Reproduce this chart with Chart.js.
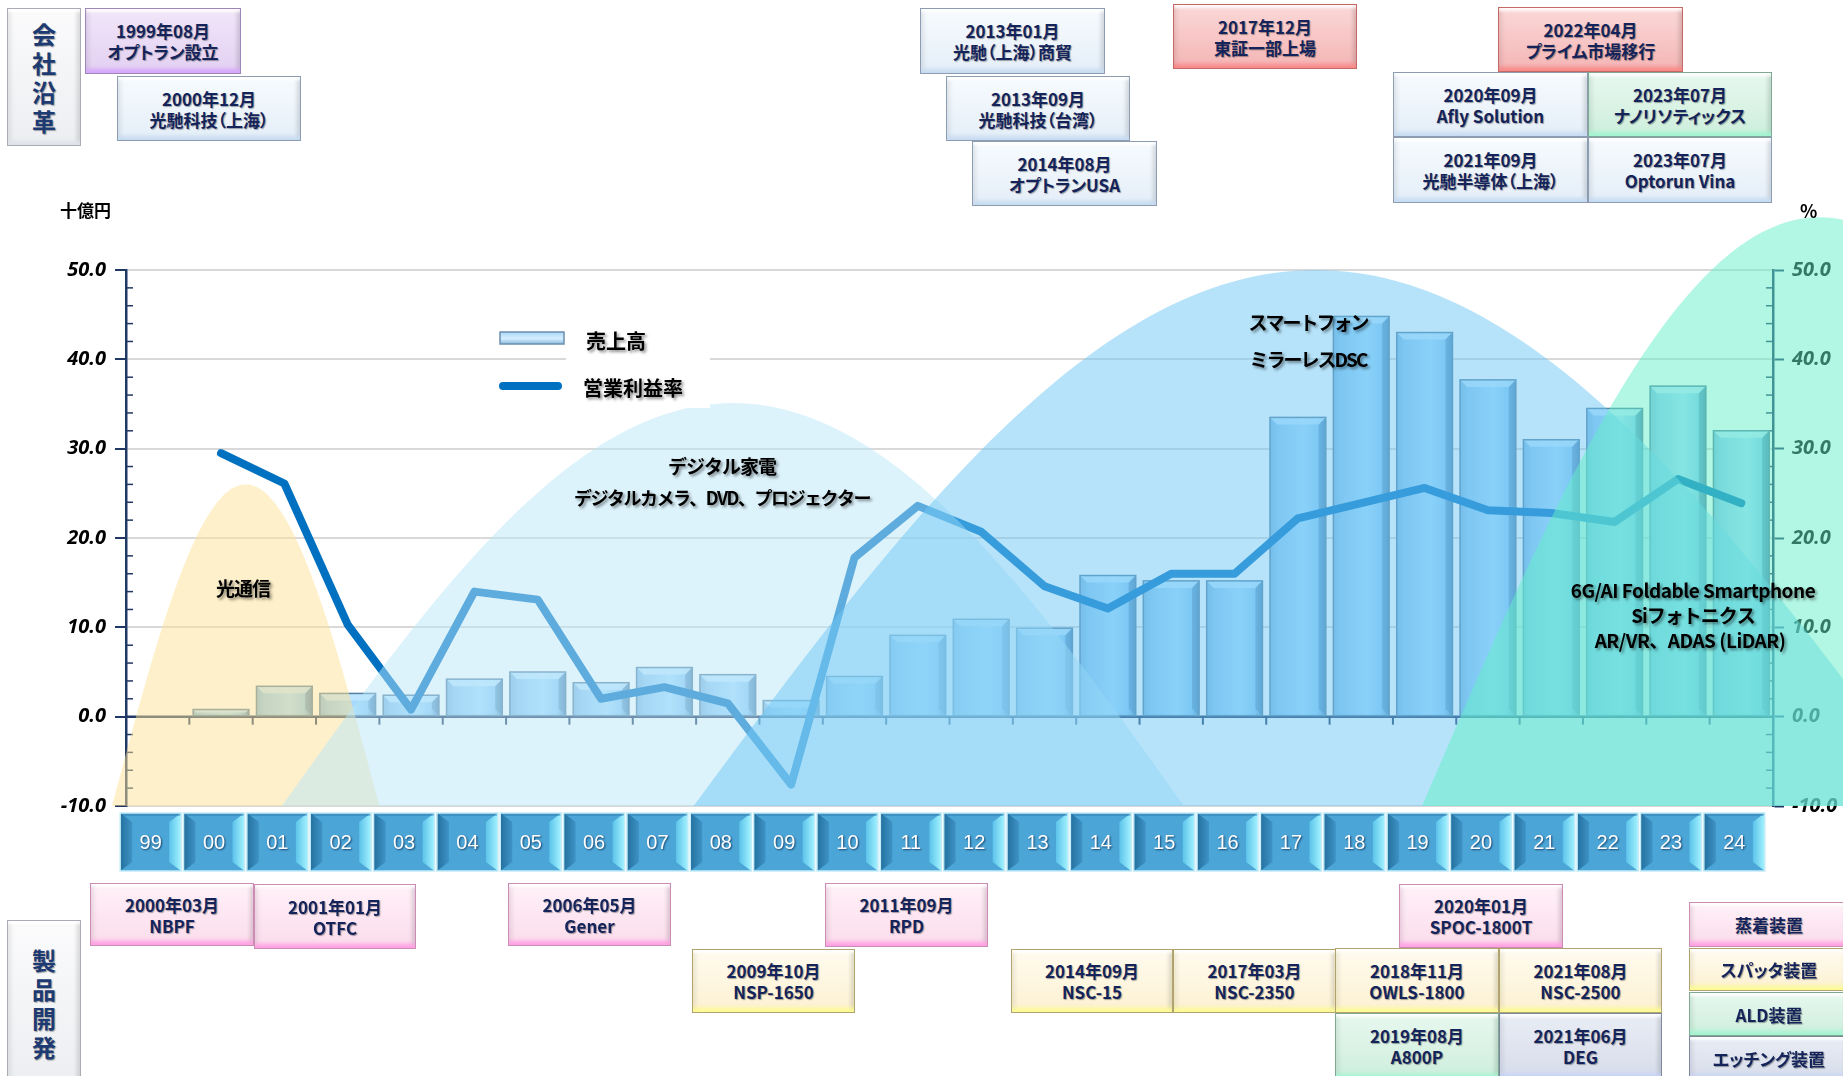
<!DOCTYPE html>
<html>
<head>
<meta charset="utf-8">
<script src="https://cdn.jsdelivr.net/npm/chart.js@4.4.1/dist/chart.umd.min.js"></script>
<style>
html, body { margin: 0; padding: 0; background: #fff; }
#wrap { position: relative; width: 1843px; height: 1076px; overflow: hidden; }
#chart { position: absolute; left: 0; top: 0; }
.bx {
  position: absolute; box-sizing: border-box;
  display: flex; flex-direction: column; align-items: center; justify-content: center;
  font-family: "Noto Sans CJK JP", "Noto Sans", sans-serif; font-weight: 700;
  font-size: 17px; line-height: 21px; color: #14245a; white-space: nowrap;
  font-feature-settings: "palt";
  text-shadow: 1px 1px 1px rgba(0,0,0,.35);
  border: 1.5px solid #8f97a6;
  box-shadow: inset 0 -6px 4px -2px var(--edge), inset 0 5px 3px -2px rgba(255,255,255,.9),
              inset 6px 0 4px -3px rgba(0,0,0,.08), inset -6px 0 4px -3px rgba(0,0,0,.14);
}
.blue   { background: linear-gradient(#f7fbfe, #e4eef8); --edge: #c7dcf1; border-color: #8e9cb2; }
.purple { background: linear-gradient(#f1e6f9, #e2d0f2); --edge: #d5a6fb; border-color: #9d86b8; }
.red    { background: linear-gradient(#fbd8d8, #f4b5b5); --edge: #f98888; border-color: #c46a66; }
.green  { background: linear-gradient(#e8f8ef, #cdeedc); --edge: #a3f5d0; border-color: #7fa892; }
.pink   { background: linear-gradient(#fff1f8, #fbdcec); --edge: #ff9fe3; border-color: #c98eb2; }
.yellow { background: linear-gradient(#fffbef, #fcf1d1); --edge: #fdfb92; border-color: #b0a371; }
.gray   { background: linear-gradient(#e9edf5, #d6dcea); --edge: #c4d3fa; border-color: #7d879c; }
.white  { background: linear-gradient(#fbfbfc, #eceef1); --edge: #dfe2e8; border-color: #a9acb3; }
.vert { font-size: 24px; line-height: 29px; color: #1d3a72; }
.unit { position: absolute; font-family: "Noto Sans CJK JP", sans-serif; font-weight: 700; font-size: 17px; color: #000; }
</style>
</head>
<body>
<div id="wrap">
<canvas id="chart" width="1843" height="1076"></canvas>

<div class="bx white vert" style="left:7px;top:8px;width:74px;height:138px;">会<br>社<br>沿<br>革</div>
<div class="bx purple" style="left:85px;top:8px;width:156px;height:66px;"><span>1999年08月</span><span>オプトラン設立</span></div>
<div class="bx blue" style="left:117px;top:76px;width:184px;height:65px;"><span>2000年12月</span><span>光馳科技（上海）</span></div>
<div class="bx blue" style="left:920px;top:8px;width:185px;height:66px;"><span>2013年01月</span><span>光馳（上海）商貿</span></div>
<div class="bx blue" style="left:946px;top:76px;width:184px;height:65px;"><span>2013年09月</span><span>光馳科技（台湾）</span></div>
<div class="bx blue" style="left:972px;top:141px;width:185px;height:65px;"><span>2014年08月</span><span>オプトランUSA</span></div>
<div class="bx red" style="left:1173px;top:4px;width:184px;height:65px;"><span>2017年12月</span><span>東証一部上場</span></div>
<div class="bx red" style="left:1498px;top:7px;width:185px;height:65px;"><span>2022年04月</span><span>プライム市場移行</span></div>
<div class="bx blue" style="left:1393px;top:72px;width:195px;height:65px;"><span>2020年09月</span><span>Afly Solution</span></div>
<div class="bx green" style="left:1588px;top:72px;width:184px;height:65px;"><span>2023年07月</span><span>ナノリソティックス</span></div>
<div class="bx blue" style="left:1393px;top:137px;width:195px;height:66px;"><span>2021年09月</span><span>光馳半導体（上海）</span></div>
<div class="bx blue" style="left:1588px;top:137px;width:184px;height:66px;"><span>2023年07月</span><span>Optorun Vina</span></div>

<div class="bx white vert" style="left:7px;top:920px;width:74px;height:166px;">製<br>品<br>開<br>発</div>
<div class="bx pink" style="left:90px;top:883px;width:164px;height:63px;"><span>2000年03月</span><span>NBPF</span></div>
<div class="bx pink" style="left:254px;top:884px;width:162px;height:65px;"><span>2001年01月</span><span>OTFC</span></div>
<div class="bx pink" style="left:508px;top:883px;width:163px;height:63px;"><span>2006年05月</span><span>Gener</span></div>
<div class="bx yellow" style="left:692px;top:949px;width:163px;height:64px;"><span>2009年10月</span><span>NSP-1650</span></div>
<div class="bx pink" style="left:825px;top:883px;width:163px;height:64px;"><span>2011年09月</span><span>RPD</span></div>
<div class="bx yellow" style="left:1011px;top:949px;width:162px;height:64px;"><span>2014年09月</span><span>NSC-15</span></div>
<div class="bx yellow" style="left:1173px;top:949px;width:163px;height:64px;"><span>2017年03月</span><span>NSC-2350</span></div>
<div class="bx yellow" style="left:1335px;top:948px;width:164px;height:65px;"><span>2018年11月</span><span>OWLS-1800</span></div>
<div class="bx green" style="left:1335px;top:1013px;width:164px;height:66px;"><span>2019年08月</span><span>A800P</span></div>
<div class="bx pink" style="left:1399px;top:884px;width:164px;height:64px;"><span>2020年01月</span><span>SPOC-1800T</span></div>
<div class="bx yellow" style="left:1499px;top:948px;width:163px;height:65px;"><span>2021年08月</span><span>NSC-2500</span></div>
<div class="bx gray" style="left:1499px;top:1013px;width:163px;height:66px;"><span>2021年06月</span><span>DEG</span></div>
<div class="bx pink" style="left:1689px;top:902px;width:160px;height:45px;">蒸着装置</div>
<div class="bx yellow" style="left:1689px;top:948px;width:160px;height:43px;">スパッタ装置</div>
<div class="bx green" style="left:1689px;top:992px;width:160px;height:44px;">ALD装置</div>
<div class="bx gray" style="left:1689px;top:1036px;width:160px;height:44px;">エッチング装置</div>

<div class="unit" style="left:60px;top:197px;">十億円</div>
<div class="unit" style="left:1800px;top:197px;font-size:18px;">%</div>
</div>

<script>
// 年度 (1999-2024)
const years = ['99', '00', '01', '02', '03', '04', '05', '06', '07', '08', '09', '10', '11', '12',
               '13', '14', '15', '16', '17', '18', '19', '20', '21', '22', '23', '24'];
// 売上高 (十億円)
const sales = [null, 0.8, 3.4, 2.6, 2.4, 4.2, 5.0, 3.8, 5.5, 4.7, 1.8, 4.5, 9.1, 10.9,
               9.9, 15.8, 15.2, 15.2, 33.5, 44.8, 43.0, 37.7, 31.0, 34.5, 37.0, 32.0];
// 営業利益率 (%)
const margin = [null, 29.5, 26.1, 10.3, 0.8, 14.0, 13.1, 2.0, 3.3, 1.5, -7.6, 17.8, 23.6, 20.7,
                14.6, 12.1, 16.0, 16.0, 22.2, 23.9, 25.6, 23.1, 22.8, 21.8, 26.6, 23.9];
const yTicks = [-10, 0, 10, 20, 30, 40, 50];

// 市場の波 (category index units, value units)
const phases = [
  { from: -0.72, to: 3.5,  peak: 26.0, fill: 'rgba(253,225,150,0.5)' },
  { from: 1.96,  to: 16.2, peak: 35.1, fill: 'rgba(187,231,249,0.5)' },
  { from: 8.46,  to: 28.1, peak: 50.0, fill: 'rgba(110,200,245,0.5)' },
  { from: 19.96, to: 32.5, peak: 55.9, fill: 'rgba(100,240,200,0.5)' }
];

const NAVY = '#1f3864';
const JP = '"Noto Sans CJK JP", "Noto Sans", sans-serif';

function shadowText(c, text, x, y, size, spacing) {
    c.save();
    c.font = `700 ${size}px ${JP}`;
    if (spacing) c.letterSpacing = spacing;
    c.textAlign = 'center';
    c.textBaseline = 'middle';
    c.shadowColor = 'rgba(0,0,0,0.45)';
    c.shadowOffsetX = 2;
    c.shadowOffsetY = 2;
    c.shadowBlur = 3;
    c.fillStyle = '#000';
    c.fillText(text, x, y);
    c.restore();
}

const decor = {
    id: 'decor',
    beforeDatasetsDraw(chart) {
        const c = chart.ctx, ys = chart.scales.y, xs = chart.scales.x;
        const { left, right } = chart.chartArea;
        c.save();
        c.strokeStyle = NAVY;
        c.lineWidth = 1.5;
        // minor ticks
        for (let v = -10; v <= 50; v += 2) {
            if (v % 10 === 0) continue;
            const y = ys.getPixelForValue(v);
            c.beginPath(); c.moveTo(left, y); c.lineTo(left + 7, y); c.stroke();
            c.beginPath(); c.moveTo(right - 7, y); c.lineTo(right, y); c.stroke();
        }
        // category axis at 0
        const y0 = ys.getPixelForValue(0);
        c.lineWidth = 2.5;
        c.beginPath(); c.moveTo(left, y0); c.lineTo(right, y0); c.stroke();
        c.lineWidth = 2;
        for (let i = 1; i < years.length; i++) {
            const x = xs.getPixelForValue(i - 0.5);
            c.beginPath(); c.moveTo(x, y0); c.lineTo(x, y0 + 8); c.stroke();
        }
        c.restore();
    },
    afterDatasetDraw(chart, args) {
        if (args.meta.type !== 'bar') return;
        const c = chart.ctx;
        args.meta.data.forEach((bar, i) => {
            if (sales[i] == null) return;
            const { x, y, base, width } = bar.getProps(['x', 'y', 'base', 'width'], true);
            const l = x - width / 2, r = x + width / 2;
            const t = Math.min(y, base), b = Math.max(y, base);
            const h = b - t, e = Math.min(7, h / 2);
            const g = c.createLinearGradient(l, 0, r, 0);
            g.addColorStop(0, '#7db5e0');
            g.addColorStop(0.15, '#8fc7f0');
            g.addColorStop(0.6, '#a6dbfd');
            g.addColorStop(0.85, '#8dcaf4');
            g.addColorStop(1, '#5d95c2');
            c.save();
            c.fillStyle = g;
            c.fillRect(l, t, width, h);
            c.beginPath();
            c.moveTo(l, t); c.lineTo(r, t); c.lineTo(r - e, t + e); c.lineTo(l + e, t + e);
            c.closePath();
            c.fillStyle = 'rgba(195,232,255,0.85)';
            c.fill();
            c.beginPath();
            c.moveTo(r, t); c.lineTo(r, b); c.lineTo(r - e, b - e); c.lineTo(r - e, t + e);
            c.closePath();
            c.fillStyle = 'rgba(60,110,160,0.4)';
            c.fill();
            c.strokeStyle = '#557f9f';
            c.lineWidth = 1.5;
            c.strokeRect(l, t, width, h);
            c.restore();
        });
    },
    afterDatasetsDraw(chart) {
        const c = chart.ctx, ys = chart.scales.y, xs = chart.scales.x;
        const yb = ys.getPixelForValue(-10);
        phases.forEach(p => {
            const x0 = xs.getPixelForValue(p.from), x1 = xs.getPixelForValue(p.to);
            const yp = ys.getPixelForValue(p.peak);
            c.save();
            c.beginPath();
            c.moveTo(x0, yb);
            for (let k = 1; k <= 120; k++) {
                const t = k / 120;
                c.lineTo(x0 + (x1 - x0) * t, yb - (yb - yp) * Math.sin(Math.PI * t));
            }
            c.closePath();
            c.fillStyle = p.fill;
            c.fill();
            c.restore();
        });
    },
    afterDraw(chart) {
        const c = chart.ctx, xs = chart.scales.x;

        // market labels
        shadowText(c, '光通信', 243, 589, 19, '-1px');
        shadowText(c, 'デジタル家電', 722, 467, 19, '-1px');
        shadowText(c, 'デジタルカメラ、DVD、プロジェクター', 722, 498, 18, '-1.5px');
        shadowText(c, 'スマートフォン', 1308, 323, 19, '-2px');
        shadowText(c, 'ミラーレスDSC', 1308, 360, 19, '-2px');
        shadowText(c, '6G/AI Foldable Smartphone', 1693, 591, 19, '-0.5px');
        shadowText(c, 'Siフォトニクス', 1693, 616, 19, '-1px');
        shadowText(c, 'AR/VR、ADAS (LiDAR)', 1690, 641, 19, '-0.5px');

        // legend
        c.save();
        c.fillStyle = '#fff';
        c.fillRect(566, 316, 144, 92);
        const g = c.createLinearGradient(0, 332, 0, 345);
        g.addColorStop(0, '#a9d6f7'); g.addColorStop(0.5, '#d6eeff'); g.addColorStop(1, '#7eb1da');
        c.fillStyle = g;
        c.fillRect(500, 332, 64, 12);
        c.strokeStyle = '#6c8fae'; c.lineWidth = 1.5;
        c.strokeRect(500, 332, 64, 12);
        c.strokeStyle = '#0070c0'; c.lineWidth = 8; c.lineCap = 'round';
        c.beginPath(); c.moveTo(503, 386); c.lineTo(558, 386); c.stroke();
        c.restore();
        shadowText(c, '売上高', 616, 341, 20);
        shadowText(c, '営業利益率', 633, 388, 20);

        // category label tiles
        const top = 813, bot = 871, w = 61, e = 12;
        years.forEach((lab, i) => {
            const cx = xs.getPixelForValue(i) - 7;
            const l = cx - w / 2, r = cx + w / 2;
            c.save();
            c.fillStyle = '#4ba5d6';
            c.fillRect(l, top, w, bot - top);
            let gl = c.createLinearGradient(l, 0, l + e, 0);
            gl.addColorStop(0, '#22709f'); gl.addColorStop(1, '#3f93c5');
            c.fillStyle = gl;
            c.beginPath(); c.moveTo(l, top); c.lineTo(l + e, top + 9); c.lineTo(l + e, bot - 9); c.lineTo(l, bot); c.closePath(); c.fill();
            let gr = c.createLinearGradient(r - e, 0, r, 0);
            gr.addColorStop(0, '#5cc3ea'); gr.addColorStop(1, '#a4f3ff');
            c.fillStyle = gr;
            c.beginPath(); c.moveTo(r, top); c.lineTo(r - e, top + 9); c.lineTo(r - e, bot - 9); c.lineTo(r, bot); c.closePath(); c.fill();
            c.fillStyle = 'rgba(40,110,160,0.35)';
            c.fillRect(l, top, w, 3);
            c.strokeStyle = '#c4ecf8'; c.lineWidth = 1.5;
            c.strokeRect(l, top, w, bot - top);
            c.font = '20px "Liberation Sans", Arial, sans-serif';
            c.textAlign = 'center'; c.textBaseline = 'middle';
            c.shadowColor = 'rgba(0,20,60,0.7)'; c.shadowOffsetX = 1; c.shadowOffsetY = 1; c.shadowBlur = 2;
            c.fillStyle = '#fff';
            c.fillText(lab, cx, (top + bot) / 2 + 1);
            c.restore();
        });
    }
};

const tickFont = { family: '"Open Sans", "DejaVu Sans", sans-serif', size: 20, weight: 'bold', style: 'italic' };

const chart = new Chart(document.getElementById('chart').getContext('2d'), {
    type: 'bar',
    data: {
        labels: years,
        datasets: [
            {
                type: 'line',
                label: '営業利益率',
                data: margin,
                yAxisID: 'y1',
                borderColor: '#0070c0',
                borderWidth: 8,
                borderCapStyle: 'round',
                borderJoinStyle: 'round',
                pointRadius: 0,
                tension: 0,
                order: 0
            },
            {
                type: 'bar',
                label: '売上高',
                data: sales,
                yAxisID: 'y',
                backgroundColor: '#93c9f2',
                borderColor: '#557f9f',
                borderWidth: 1.5,
                barPercentage: 0.88,
                categoryPercentage: 1.0,
                order: 1
            }
        ]
    },
    options: {
        responsive: false,
        animation: false,
        devicePixelRatio: 1,
        layout: { padding: { top: 270, bottom: 270, left: 0, right: 0 } },
        plugins: { legend: { display: false }, tooltip: { enabled: false } },
        scales: {
            x: { display: false, offset: true },
            y: {
                position: 'left',
                min: -10, max: 50,
                afterBuildTicks: s => { s.ticks = yTicks.map(v => ({ value: v })); },
                ticks: { callback: v => v.toFixed(1), font: tickFont, color: '#000', padding: 9 },
                grid: { color: '#d9d9d9', lineWidth: 2, tickColor: NAVY, tickLength: 11, tickWidth: 2 },
                border: { color: NAVY, width: 2.5 },
                afterFit: s => { s.width = 126; }
            },
            y1: {
                position: 'right',
                min: -10, max: 50,
                afterBuildTicks: s => { s.ticks = yTicks.map(v => ({ value: v })); },
                ticks: { callback: v => v.toFixed(1), font: tickFont, color: '#000', padding: 8 },
                grid: { drawOnChartArea: false, tickColor: NAVY, tickLength: 11, tickWidth: 2 },
                border: { color: NAVY, width: 2.5 },
                afterFit: s => { s.width = 70; }
            }
        }
    },
    plugins: [decor]
});
</script>
</body>
</html>
